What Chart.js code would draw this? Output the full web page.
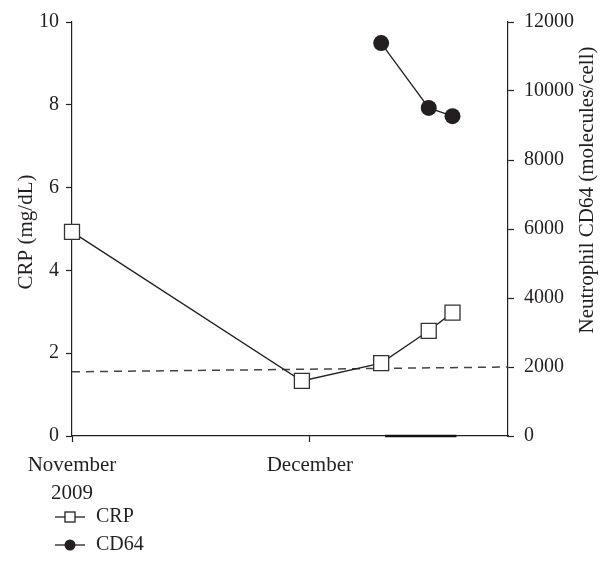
<!DOCTYPE html>
<html>
<head>
<meta charset="utf-8">
<script src="https://cdn.jsdelivr.net/npm/chart.js@4.4.0/dist/chart.umd.min.js"></script>
<style>
    html, body { margin: 0; padding: 0; background: #fff; }
    #wrap { width: 602px; height: 571px; position: relative; }
</style>
</head>
<body>
<div id="wrap"><canvas id="chart" width="602" height="571"></canvas></div>
<script>
// Days counted from 1 November 2009
const crpDays = [0, 29, 39, 45, 48];
const crpValues = [4.93, 1.33, 1.76, 2.54, 2.98];

const cd64Days = [39, 45, 48];
const cd64Values = [11390, 9510, 9270];

// dashed cut-off line (right axis)
const cutoffDays = [0, 55];
const cutoffValues = [1860, 2000];

// dark segment lying on the baseline
const baseDays = [39.5, 48.5];
const baseValues = [0, 0];

const xTickDays = [0, 30];
const xTickLabels = [['November', '2009'], 'December'];

const ink = '#231f20';
const serif = "'Liberation Serif', 'Times New Roman', serif";

function pairs(xs, ys) {
    return xs.map((x, i) => ({ x: x, y: ys[i] }));
}

// Legend under the axis and both axis titles, read bottom-to-top like the print
const extras = {
    id: 'extras',
    afterDraw(chart) {
        const ctx = chart.ctx;
        const rows = [
            { label: 'CRP', y: 517, style: 'rect' },
            { label: 'CD64', y: 545, style: 'circle' }
        ];
        ctx.save();
        rows.forEach(r => {
            ctx.strokeStyle = ink;
            ctx.lineWidth = 1.3;
            ctx.beginPath();
            ctx.moveTo(55, r.y);
            ctx.lineTo(85, r.y);
            ctx.stroke();
            if (r.style === 'rect') {
                ctx.fillStyle = '#fff';
                ctx.fillRect(65, r.y - 5, 10, 10);
                ctx.strokeRect(65, r.y - 5, 10, 10);
            } else {
                ctx.fillStyle = ink;
                ctx.beginPath();
                ctx.arc(70, r.y, 5.5, 0, Math.PI * 2);
                ctx.fill();
            }
            ctx.fillStyle = ink;
            ctx.font = '20px ' + serif;
            ctx.textBaseline = 'middle';
            ctx.textAlign = 'left';
            ctx.fillText(r.label, 96, r.y);
        });

        // axis titles
        const titles = [
            { text: 'CRP (mg/dL)', x: 26, y: 232 },
            { text: 'Neutrophil CD64 (molecules/cell)', x: 587, y: 190 }
        ];
        ctx.font = '21px ' + serif;
        ctx.textAlign = 'center';
        ctx.textBaseline = 'middle';
        titles.forEach(t => {
            ctx.save();
            ctx.translate(t.x, t.y);
            ctx.rotate(-Math.PI / 2);
            ctx.fillText(t.text, 0, 0);
            ctx.restore();
        });
        ctx.restore();
    }
};

const ctx = document.getElementById('chart').getContext('2d');

new Chart(ctx, {
    type: 'line',
    data: {
        datasets: [
            {
                label: 'cutoff',
                data: pairs(cutoffDays, cutoffValues),
                yAxisID: 'y2',
                borderColor: '#444',
                borderWidth: 1.5,
                borderDash: [8, 6],
                pointRadius: 0,
                order: 3
            },
            {
                label: 'baseline',
                data: pairs(baseDays, baseValues),
                yAxisID: 'y2',
                borderColor: '#111',
                borderWidth: 2.5,
                pointRadius: 0,
                clip: false,
                order: 2
            },
            {
                label: 'CRP',
                data: pairs(crpDays, crpValues),
                yAxisID: 'y',
                borderColor: ink,
                borderWidth: 1.3,
                pointStyle: 'rect',
                pointRadius: 10.6,
                pointBackgroundColor: '#fff',
                pointBorderColor: '#333',
                pointBorderWidth: 1.3,
                clip: false,
                order: 1
            },
            {
                label: 'CD64',
                data: pairs(cd64Days, cd64Values),
                yAxisID: 'y2',
                borderColor: ink,
                borderWidth: 1.3,
                pointStyle: 'circle',
                pointRadius: 8,
                pointBackgroundColor: ink,
                pointBorderColor: ink,
                pointBorderWidth: 0,
                clip: false,
                order: 0
            }
        ]
    },
    options: {
        responsive: false,
        animation: false,
        layout: { padding: { top: 16 } },
        plugins: {
            legend: { display: false },
            tooltip: { enabled: false }
        },
        scales: {
            x: {
                type: 'linear',
                min: 0,
                max: 55,
                afterBuildTicks: scale => {
                    scale.ticks = xTickDays.map(v => ({ value: v }));
                },
                afterFit: scale => { scale.height = 135; },
                ticks: {
                    color: ink,
                    font: { family: serif, size: 21, lineHeight: 1.35 },
                    padding: 9,
                    maxRotation: 0,
                    autoSkip: false,
                    callback: value => xTickLabels[xTickDays.indexOf(value)]
                },
                grid: {
                    drawOnChartArea: false,
                    tickLength: 6,
                    tickColor: ink,
                    tickWidth: 1.2
                },
                border: { color: ink, width: 1.2 }
            },
            y: {
                position: 'left',
                min: 0,
                max: 10,
                afterFit: scale => { scale.width = 72; },
                ticks: {
                    stepSize: 2,
                    color: ink,
                    font: { family: serif, size: 20 },
                    padding: 7
                },
                grid: {
                    drawOnChartArea: false,
                    tickLength: 6,
                    tickColor: ink,
                    tickWidth: 1.2
                },
                border: { color: ink, width: 1.2 }
            },
            y2: {
                position: 'right',
                min: 0,
                max: 12000,
                afterFit: scale => { scale.width = 94; },
                ticks: {
                    stepSize: 2000,
                    color: ink,
                    font: { family: serif, size: 20 },
                    padding: 10,
                    callback: value => String(value)
                },
                grid: {
                    drawOnChartArea: false,
                    tickLength: 6,
                    tickColor: ink,
                    tickWidth: 1.2
                },
                border: { color: ink, width: 1.2 }
            }
        }
    },
    plugins: [extras]
});
</script>
</body>
</html>
